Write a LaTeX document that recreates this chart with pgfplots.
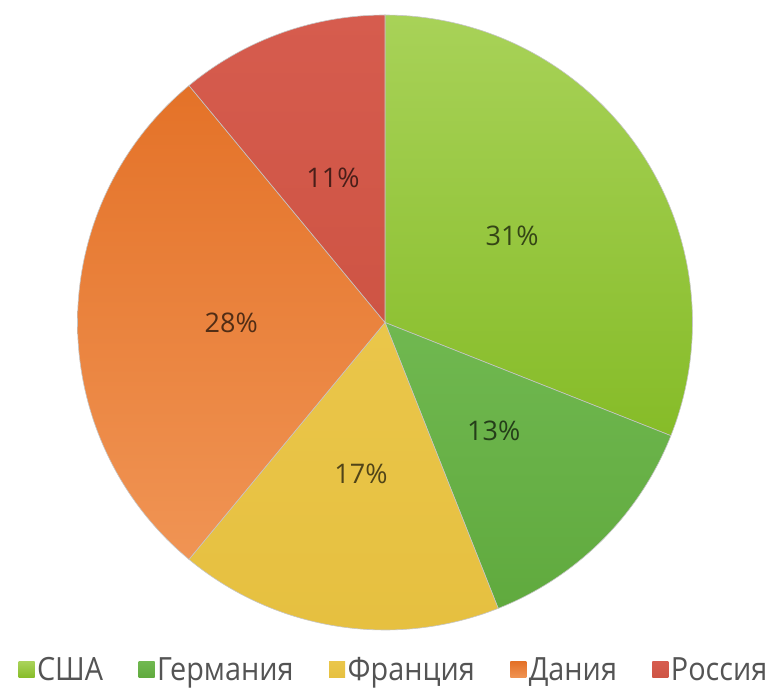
\documentclass[border=0pt]{standalone}
\usepackage{fontspec}
\setmainfont{Open Sans}
\newfontfamily\legfont[FakeStretch=0.9]{Open Sans}
\usepackage{pgfplots}
\usepackage{pgfplotstable}
\pgfplotsset{compat=1.18}
\definecolor{tUSA}{RGB}{168,210,88}
\definecolor{bUSA}{RGB}{134,188,40}
\definecolor{tGER}{RGB}{112,184,80}
\definecolor{bGER}{RGB}{96,170,62}
\definecolor{tFRA}{RGB}{234,198,74}
\definecolor{bFRA}{RGB}{230,192,64}
\definecolor{tDEN}{RGB}{228,114,40}
\definecolor{bDEN}{RGB}{240,148,84}
\definecolor{tRUS}{RGB}{214,92,78}
\definecolor{bRUS}{RGB}{206,84,68}
\definecolor{legtext}{RGB}{84,84,84}
\pgfplotstableread{
name value top bot
США 31 tUSA bUSA
Германия 13 tGER bGER
Франция 17 tFRA bFRA
Дания 28 tDEN bDEN
Россия 11 tRUS bRUS
}\piedata
\newcommand\pctfont{\fontsize{27}{32}\selectfont}
\begin{document}
\begin{tikzpicture}
\begin{axis}[
  hide axis, scale only axis, width=615pt, height=615pt,
  xmin=-1, xmax=1, ymin=-1, ymax=1, clip=false,
  legend style={draw=none, at={(axis description cs:0.515,-0.065)}, anchor=center,
    legend columns=-1, font=\legfont\fontsize{32}{37}\selectfont, text=legtext,
    /tikz/every even column/.append style={column sep=33pt},
    nodes={inner xsep=2.5pt, inner ysep=1pt}},
  legend image code/.code={\path[#1, draw=none] (0pt,-8pt) rectangle (16pt,8pt);},
]
\coordinate (c) at (axis cs:0,0);
\def\cum{0}
\pgfplotsforeachungrouped \i in {0,...,4}{%
  \pgfplotstablegetelem{\i}{value}\of\piedata \let\v\pgfplotsretval
  \pgfplotstablegetelem{\i}{name}\of\piedata \let\n\pgfplotsretval
  \pgfplotstablegetelem{\i}{top}\of\piedata \let\ct\pgfplotsretval
  \pgfplotstablegetelem{\i}{bot}\of\piedata \let\cb\pgfplotsretval
  \pgfmathsetmacro\a{90-3.6*\cum}
  \pgfmathsetmacro\b{90-3.6*(\cum+\v)}
  \pgfmathsetmacro\m{(\a+\b)/2}
  \pgfmathsetmacro\lx{0.5*cos(\m)}
  \pgfmathsetmacro\ly{0.5*sin(\m)}
  \edef\cmd{%
    \noexpand\addplot[top color=\ct, bottom color=\cb, draw=gray!45, line width=0.6pt, domain=\b:\a, samples=90]
      ({cos(x)},{sin(x)}) -- (axis cs:0,0) -- cycle;
    \noexpand\addlegendentry{\n}
    \noexpand\node[font=\noexpand\pctfont, text=black, text opacity=0.65] at (axis cs:\lx,\ly) {\v\noexpand\%};
  }%
  \cmd
  \pgfmathsetmacro\cum{\cum+\v}
}
\end{axis}
\pgfresetboundingbox
\path (c) ++(-385pt,322.5pt) rectangle ++(781pt,-692pt);
\end{tikzpicture}
\end{document}
